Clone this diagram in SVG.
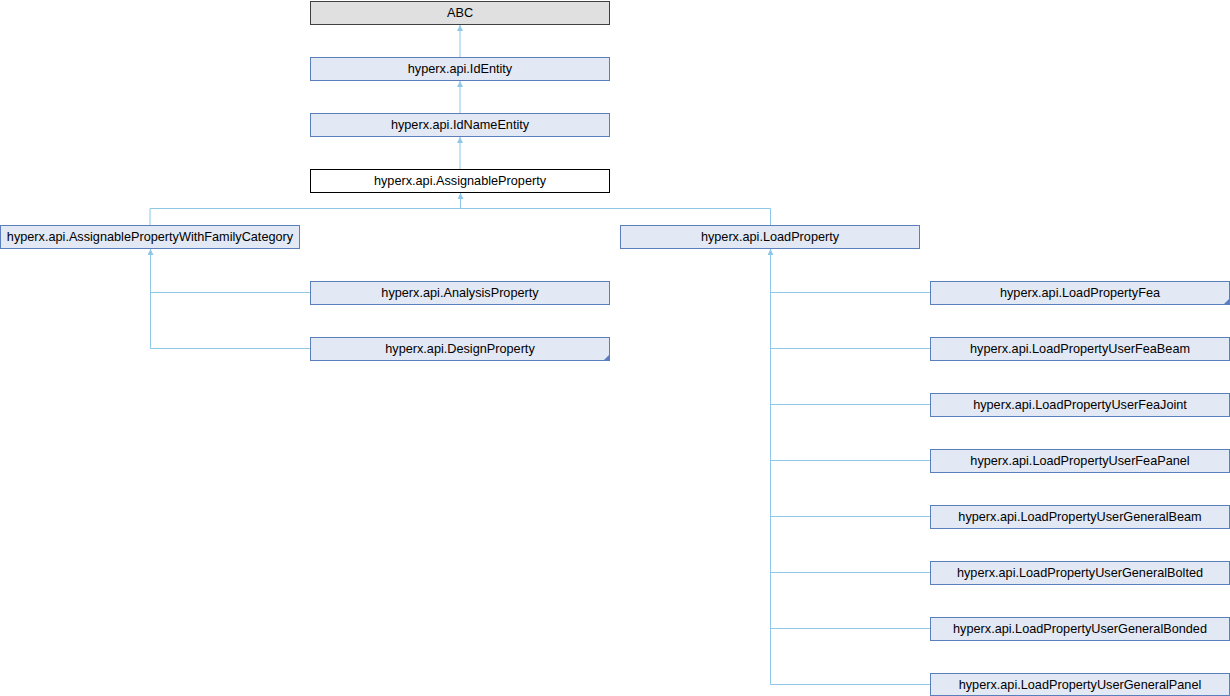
<svg xmlns="http://www.w3.org/2000/svg" width="1230" height="696" viewBox="0 0 1230 696">
<style>
.n rect{fill:#e2e8f4;stroke:#5b7fbd;stroke-width:1}
.t{font-family:"Liberation Sans",Arial,sans-serif;font-size:12.7px;fill:#000;text-anchor:middle}
.e{fill:none;stroke:#8ec7e8;stroke-width:1}
.tri{fill:#5b7fbd}
</style>
<defs>
<marker id="a" viewBox="0 0 10 10" refX="10" refY="5" markerWidth="6" markerHeight="6" orient="auto" markerUnits="userSpaceOnUse">
<path d="M0,0 L10,5 L0,10 z" fill="#8ec7e8"/>
</marker>
</defs>
<rect width="1230" height="696" fill="#fff"/>
<g id="connectors">
<path class="e" d="M460,57 V25" marker-end="url(#a)"/>
<path class="e" d="M460,113 V81" marker-end="url(#a)"/>
<path class="e" d="M460,169 V137" marker-end="url(#a)"/>
<path class="e" d="M150,225 V208.5 H770.5 V225"/>
<path class="e" d="M460.5,208 V193" marker-end="url(#a)"/>
<path class="e" d="M310,292.5 H150.5 V249" marker-end="url(#a)"/>
<path class="e" d="M310,348.5 H150.5 V292"/>
<path class="e" d="M930,292.5 H770.5 V249" marker-end="url(#a)"/>
<path class="e" d="M930,348.5 H770.5 V292 M930,404.5 H770.5 V348 M930,460.5 H770.5 V404 M930,516.5 H770.5 V460 M930,572.5 H770.5 V516 M930,628.5 H770.5 V572 M930,684.5 H770.5 V628"/>
</g>
<g id="ABC"><rect x="310.5" y="1.5" width="299" height="23" fill="#e0e0e0" stroke="#404040"/><text class="t" x="460" y="16.5">ABC</text></g>
<g id="IdEntity" class="n"><rect x="310.5" y="57.5" width="299" height="23"/><text class="t" x="460" y="72.5">hyperx.api.IdEntity</text></g>
<g id="IdNameEntity" class="n"><rect x="310.5" y="113.5" width="299" height="23"/><text class="t" x="460" y="128.5">hyperx.api.IdNameEntity</text></g>
<g id="AssignableProperty"><rect x="310.5" y="169.5" width="299" height="23" fill="#fff" stroke="#000"/><text class="t" x="460" y="184.5">hyperx.api.AssignableProperty</text></g>
<g id="AssignablePropertyWithFamilyCategory" class="n"><rect x="0.5" y="225.5" width="299" height="23"/><text class="t" x="150" y="240.5">hyperx.api.AssignablePropertyWithFamilyCategory</text></g>
<g id="LoadProperty" class="n"><rect x="620.5" y="225.5" width="299" height="23"/><text class="t" x="770" y="240.5">hyperx.api.LoadProperty</text></g>
<g id="AnalysisProperty" class="n"><rect x="310.5" y="281.5" width="299" height="23"/><text class="t" x="460" y="296.5">hyperx.api.AnalysisProperty</text></g>
<g id="DesignProperty" class="n"><rect x="310.5" y="337.5" width="299" height="23"/><text class="t" x="460" y="352.5">hyperx.api.DesignProperty</text><path class="tri" d="M610,354 V361 H603 z"/></g>
<g id="LoadPropertyFea" class="n"><rect x="930.5" y="281.5" width="299" height="23"/><text class="t" x="1080" y="296.5">hyperx.api.LoadPropertyFea</text><path class="tri" d="M1230,298 V305 H1223 z"/></g>
<g id="LoadPropertyUserFeaBeam" class="n"><rect x="930.5" y="337.5" width="299" height="23"/><text class="t" x="1080" y="352.5">hyperx.api.LoadPropertyUserFeaBeam</text></g>
<g id="LoadPropertyUserFeaJoint" class="n"><rect x="930.5" y="393.5" width="299" height="23"/><text class="t" x="1080" y="408.5">hyperx.api.LoadPropertyUserFeaJoint</text></g>
<g id="LoadPropertyUserFeaPanel" class="n"><rect x="930.5" y="449.5" width="299" height="23"/><text class="t" x="1080" y="464.5">hyperx.api.LoadPropertyUserFeaPanel</text></g>
<g id="LoadPropertyUserGeneralBeam" class="n"><rect x="930.5" y="505.5" width="299" height="23"/><text class="t" x="1080" y="520.5">hyperx.api.LoadPropertyUserGeneralBeam</text></g>
<g id="LoadPropertyUserGeneralBolted" class="n"><rect x="930.5" y="561.5" width="299" height="23"/><text class="t" x="1080" y="576.5">hyperx.api.LoadPropertyUserGeneralBolted</text></g>
<g id="LoadPropertyUserGeneralBonded" class="n"><rect x="930.5" y="617.5" width="299" height="23"/><text class="t" x="1080" y="632.5">hyperx.api.LoadPropertyUserGeneralBonded</text></g>
<g id="LoadPropertyUserGeneralPanel" class="n"><rect x="930.5" y="673.5" width="299" height="22"/><text class="t" x="1080" y="688.5">hyperx.api.LoadPropertyUserGeneralPanel</text></g>
</svg>
